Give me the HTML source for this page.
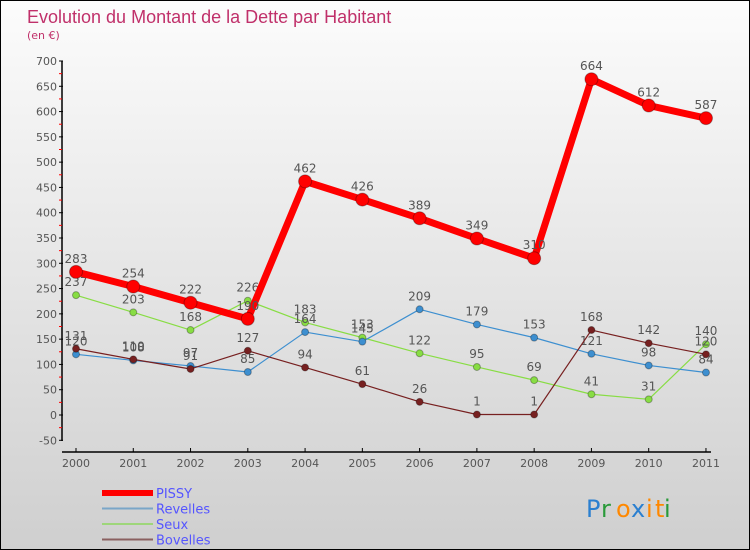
<!DOCTYPE html>
<html><head><meta charset="utf-8"><style>
body{margin:0}
#c{width:750px;height:550px;position:relative;box-sizing:border-box;border:1px solid #000;background:linear-gradient(#fcfcfc,#cfcfcf);font-family:"DejaVu Sans","Liberation Sans",sans-serif;overflow:hidden}
</style></head><body>
<div id="c">
<svg id="s" width="750" height="550" style="position:absolute;left:0;top:0"></svg>
</div>
<script>
const years=["2000","2001","2002","2003","2004","2005","2006","2007","2008","2009","2010","2011"];
const pissy=[283,254,222,190,462,426,389,349,310,664,612,587];
const revelles=[120,108,97,85,164,145,209,179,153,121,98,84];
const seux=[237,203,168,226,183,153,122,95,69,41,31,140];
const bovelles=[131,110,91,127,94,61,26,1,1,168,142,120];
const yTicks=[-50,0,50,100,150,200,250,300,350,400,450,500,550,600,650,700];
const NS="http://www.w3.org/2000/svg",s=document.getElementById('s');
const X=i=>75+i*57.27, Y=v=>414-v*354/700;
function el(t,a,p){const e=document.createElementNS(NS,t);for(const k in a)e.setAttribute(k,a[k]);(p||s).appendChild(e);return e;}
function tx(x,y,str,a){const e=el('text',Object.assign({x:x,y:y},a));e.textContent=str;return e;}
let e;
e=tx(26,22,"Evolution du Montant de la Dette par Habitant",{fill:"#c0306a","font-size":"18","font-family":"Liberation Sans"});

e=tx(26,38,"(en €)",{fill:"#c0306a","font-size":"11"});

el('line',{x1:61,y1:60,x2:61,y2:440,stroke:"#000","stroke-width":1.5});
el('line',{x1:61,y1:451,x2:710,y2:451,stroke:"#000","stroke-width":1.5});
yTicks.forEach(v=>{const y=Y(v);el('line',{x1:58,y1:y,x2:62,y2:y,stroke:"#000"});
 if(v<700)el('line',{x1:58,y1:Y(v+25),x2:61,y2:Y(v+25),stroke:"red"});
 e=tx(56,y+4,String(v),{"text-anchor":"end","font-size":"11",fill:"#555"});
 });
years.forEach((yr,i)=>{el('line',{x1:X(i),y1:447,x2:X(i),y2:451,stroke:"#000"});
 e=tx(X(i),466,yr,{"text-anchor":"middle","font-size":"11",fill:"#555"});
 });
function series(d,col,w,r,name,labels){
 const g=el('g',{});
 el('polyline',{points:d.map((v,i)=>X(i)+","+Y(v)).join(" "),fill:"none",stroke:col,"stroke-width":w,"stroke-linejoin":"round"},g);
 d.forEach((v,i)=>{const c=el('circle',{cx:X(i),cy:Y(v),r:r,fill:col,stroke:"rgba(0,0,0,0.3)"},g);
  
  if(labels)tx(X(i),Y(v)-9,String(v),{"text-anchor":"middle","font-size":"12",fill:"#555"},g);});
}
series(seux,"#88dd44",1.2,3.5,"seux",true);
series(revelles,"#3d8fd0",1.2,3.5,"revelles",true);
series(bovelles,"#772020",1.2,3.5,"bovelles",true);
series(pissy,"#ff0000",7,6.5,"pissy",true);
const leg=[["PISSY","#ff0000",6],["Revelles","#7aa6c8",2],["Seux","#9ed67a",2],["Bovelles","#8a6060",2]];
leg.forEach((l,i)=>{const y=492+i*15.5;const g=el('g',{});
 
 el('line',{x1:101,y1:y,x2:152,y2:y,stroke:l[1],"stroke-width":l[2]},g);
 tx(155,y+5,l[0],{"font-size":"13",fill:"#5555ff"},g);});
const lg=el('g',{});
[["P","#2a7fd0"],["r","#2a9a3a"],["o","#ff8800"],["x","#2a7fd0"],["i","#ff8800"],["t","#ff8800"],["i","#2a9a3a"]].reduce((x,c)=>{tx(x,516,c[0],{"font-size":"24",fill:c[1]},lg);return x+(c[0]=="i"||c[0]=="t"?9:15);},585);
</script>
</body></html>
